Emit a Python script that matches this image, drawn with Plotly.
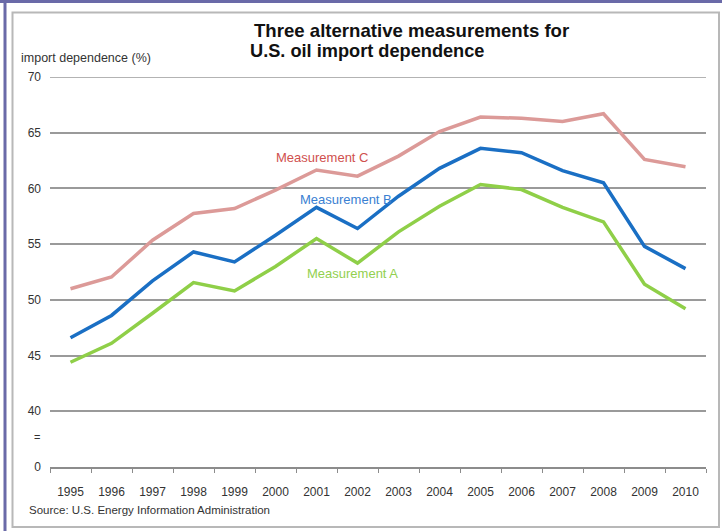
import plotly.graph_objects as go

years = [str(y) for y in range(1995, 2011)]
meas_a = [44.4, 46.1, 48.8, 51.55, 50.8, 53.0, 55.5, 53.3, 56.1, 58.4, 60.35, 59.9, 58.3, 57.0, 51.4, 49.2]
meas_b = [46.6, 48.6, 51.7, 54.3, 53.4, 55.8, 58.3, 56.4, 59.3, 61.8, 63.6, 63.2, 61.6, 60.5, 54.8, 52.8]
meas_c = [51.0, 52.05, 55.35, 57.75, 58.2, 59.85, 61.65, 61.1, 62.9, 65.1, 66.4, 66.3, 66.0, 66.7, 62.6, 61.95]
ytick_vals = [35, 40, 45, 50, 55, 60, 65, 70]
ytick_text = ["0", "40", "45", "50", "55", "60", "65", "70"]

W, H = 722, 531
L, R, T, B = 50, 16, 77, 64
pw, ph = W - L - R, H - T - B

def px(x):
    return (x - L) / pw

def py(y):
    return (H - B - y) / ph

FONT = "Liberation Sans, Arial, sans-serif"

fig = go.Figure()
for name, vals, col in [
    ("Measurement C", meas_c, "#dc9a98"),
    ("Measurement B", meas_b, "#1a6fc4"),
    ("Measurement A", meas_a, "#8fcf48"),
]:
    fig.add_trace(go.Scatter(x=years, y=vals, mode="lines", name=name,
                             line=dict(color=col, width=3.5), showlegend=False))

fig.update_layout(
    width=W, height=H,
    margin=dict(l=L, r=R, t=T, b=B),
    paper_bgcolor="white", plot_bgcolor="white",
    font=dict(family=FONT, size=12, color="#333333"),
    xaxis=dict(type="category", showgrid=False, showline=True, linecolor="#8c8c8c",
               linewidth=1.5, ticks="outside", ticklen=4, tickcolor="#8c8c8c",
               tickson="boundaries", tickfont=dict(size=12, color="#333"),
               ticklabelstandoff=13,
               range=[-0.5, 15.5], fixedrange=True),
    yaxis=dict(range=[35, 70], tickvals=ytick_vals, ticktext=ytick_text,
               showgrid=True, gridcolor="#9a9a9a", gridwidth=1.5, zeroline=False,
               showline=False, ticks="", tickfont=dict(size=12, color="#333"),
               ticklabelstandoff=8),
)

annotations = [
    dict(text="<b>Three alternative measurements for</b>", x=px(252), y=py(31), xref="paper", yref="paper",
         xanchor="left", yanchor="middle", showarrow=False,
         font=dict(size=18.6, color="#111", family=FONT)),
    dict(text="<b>U.S. oil import dependence</b>", x=px(248), y=py(51), xref="paper", yref="paper",
         xanchor="left", yanchor="middle", showarrow=False,
         font=dict(size=18.2, color="#111", family=FONT)),
    dict(text="import dependence (%)", x=px(19), y=py(58), xref="paper", yref="paper",
         xanchor="left", yanchor="middle", showarrow=False,
         font=dict(size=12.5, color="#333", family=FONT)),
    dict(text="=", x=px(42), y=py(437), xref="paper", yref="paper",
         xanchor="right", yanchor="middle", showarrow=False,
         font=dict(size=11, color="#333", family=FONT)),
    dict(text="Source: U.S. Energy Information Administration", x=px(27), y=py(510), xref="paper", yref="paper",
         xanchor="left", yanchor="middle", showarrow=False,
         font=dict(size=11.5, color="#333", family=FONT)),
    dict(text="Measurement C", x=px(322), y=py(157), xref="paper", yref="paper",
         xanchor="center", yanchor="middle", showarrow=False,
         font=dict(size=13, color="#d0504e", family=FONT)),
    dict(text="Measurement B", x=px(346), y=py(199), xref="paper", yref="paper",
         xanchor="center", yanchor="middle", showarrow=False,
         font=dict(size=13, color="#3a80d2", family=FONT)),
    dict(text="Measurement A", x=px(352), y=py(273), xref="paper", yref="paper",
         xanchor="center", yanchor="middle", showarrow=False,
         font=dict(size=13, color="#92d050", family=FONT)),
]
fig.update_layout(annotations=annotations)

shapes = [
    # top gridline at 70
    dict(type="line", xref="paper", yref="y", x0=0, x1=1, y0=70, y1=70,
         line=dict(color="#9a9a9a", width=1.5), layer="below"),
    # outer purple frame
    dict(type="line", xref="paper", yref="paper", x0=px(0), x1=px(722), y0=py(1.5), y1=py(1.5),
         line=dict(color="#6a6aa8", width=3)),
    dict(type="line", xref="paper", yref="paper", x0=px(5), x1=px(5), y0=py(0), y1=py(531),
         line=dict(color="#6a6aa8", width=3)),
    # inner gray frame
    dict(type="rect", xref="paper", yref="paper", x0=px(12.5), x1=px(719), y0=py(12.5), y1=py(527),
         line=dict(color="#b8b8b8", width=2), layer="below"),
]
fig.update_layout(shapes=shapes)

fig.write_html("out.html")
